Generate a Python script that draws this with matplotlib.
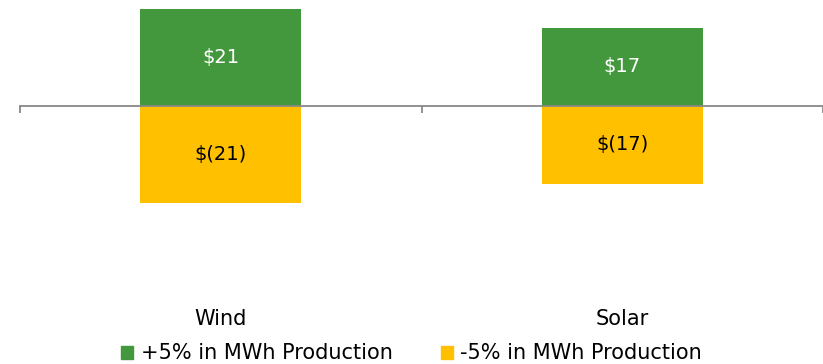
import matplotlib.pyplot as plt
from matplotlib.patches import Patch

categories = ['Wind', 'Solar']
up_values = [21, 17]
down_values = [-21, -17]
series_names = ['+5% in MWh Production', '-5% in MWh Production']
green = '#43973d'
gold = '#ffc000'

fig = plt.figure(figsize=(8.23, 3.64), dpi=100)
ax = fig.add_axes([20 / 823, 1 - 290 / 364, 803 / 823, 290 / 364])

x = range(len(categories))
ax.bar(x, up_values, width=0.4, color=green)
ax.bar(x, down_values, width=0.4, color=gold)

for xi, v in zip(x, up_values):
    ax.text(xi, v / 2, f'${v}', ha='center', va='center', color='white', fontsize=14)
for xi, v in zip(x, down_values):
    ax.text(xi, v / 2, f'$({abs(v)})', ha='center', va='center', color='black', fontsize=14)

ax.set_xlim(-0.5, 1.5)
ax.set_ylim(-40, 23)

for s in ['top', 'right', 'left']:
    ax.spines[s].set_visible(False)
ax.spines['bottom'].set_position(('data', 0))
ax.spines['bottom'].set_color('#888888')
ax.spines['bottom'].set_linewidth(1.3)
ax.set_yticks([])

ax.set_xticks(list(x))
ax.set_xticklabels(categories, fontsize=15)
ax.tick_params(axis='x', which='major', length=0, pad=146.5)
ax.set_xticks([-0.5, 0.5, 1.5], minor=True)
ax.tick_params(axis='x', which='minor', length=5, width=1.3, color='#888888', direction='out')

handles = [Patch(color=green), Patch(color=gold)]
fig.legend(handles, series_names, loc='lower center', bbox_to_anchor=(0.5, -0.05),
           ncol=2, frameon=False, fontsize=15, handlelength=0.58, handleheight=0.58,
           handletextpad=0.35, columnspacing=2.3)

fig.savefig('out.png', dpi=100)
